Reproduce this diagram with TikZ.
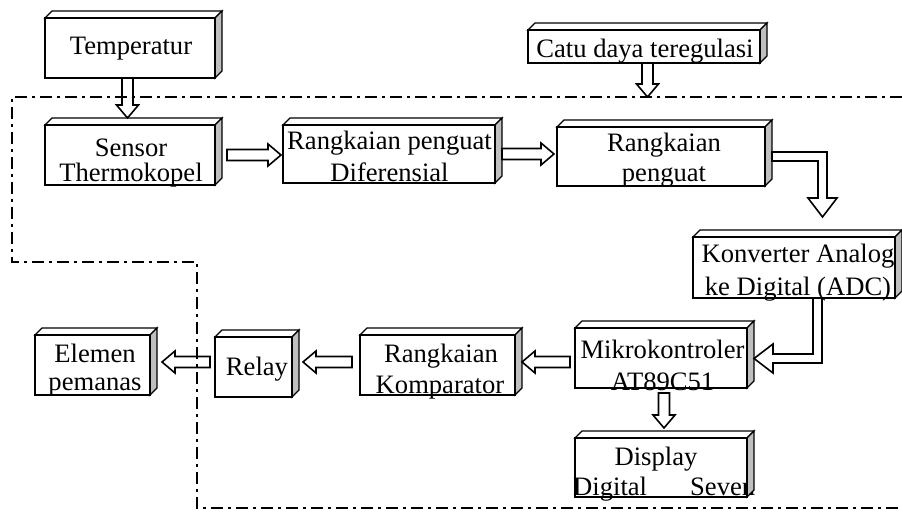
\documentclass[tikz,border=0pt]{standalone}
\usepackage{fontspec}
\setmainfont{Liberation Serif}
\usetikzlibrary{calc}
\def\arSW{5.5pt}\def\arHW{11pt}\def\arHL{13pt}
\def\elSW{4.5pt}\def\elHW{14.5pt}\def\elHL{19pt}
\tikzset{
 cubebox/.style={draw, line width=2pt, fill=white, inner sep=0pt, outer sep=0pt},
 face/.style={draw, line width=1.3pt, line join=miter, fill=white},
 sideface/.style={face, fill=black!25},
 lbl/.style={anchor=base, inner sep=0pt, font=\fontsize{26.6}{30}\selectfont},
 blk/.style={draw, line width=1.6pt, fill=white, line join=miter},
 darr/.style={blk, to path={let \p1=(\tikztostart), \p2=(\tikztotarget) in
   (\x1-\arSW,\y1) -- (\x1-\arSW,\y2+\arHL) -- (\x1-\arHW,\y2+\arHL) -- (\x1,\y2)
   -- (\x1+\arHW,\y2+\arHL) -- (\x1+\arSW,\y2+\arHL) -- (\x1+\arSW,\y1) -- cycle}},
 rarr/.style={blk, to path={let \p1=(\tikztostart), \p2=(\tikztotarget) in
   (\x1,\y1+\arSW) -- (\x2-\arHL,\y1+\arSW) -- (\x2-\arHL,\y1+\arHW) -- (\x2,\y1)
   -- (\x2-\arHL,\y1-\arHW) -- (\x2-\arHL,\y1-\arSW) -- (\x1,\y1-\arSW) -- cycle}},
 larr/.style={blk, to path={let \p1=(\tikztostart), \p2=(\tikztotarget) in
   (\x1,\y1+\arSW) -- (\x2+\arHL,\y1+\arSW) -- (\x2+\arHL,\y1+\arHW) -- (\x2,\y1)
   -- (\x2+\arHL,\y1-\arHW) -- (\x2+\arHL,\y1-\arSW) -- (\x1,\y1-\arSW) -- cycle}},
 rdarr/.style={blk, to path={let \p1=(\tikztostart), \p2=(\tikztotarget) in
   (\x1,\y1+\elSW) -- (\x2+\elSW,\y1+\elSW) -- (\x2+\elSW,\y2+\elHL) -- (\x2+\elHW,\y2+\elHL)
   -- (\x2,\y2) -- (\x2-\elHW,\y2+\elHL) -- (\x2-\elSW,\y2+\elHL) -- (\x2-\elSW,\y1-\elSW)
   -- (\x1,\y1-\elSW) -- cycle}},
 dlarr/.style={blk, to path={let \p1=(\tikztostart), \p2=(\tikztotarget) in
   (\x1-\elSW,\y1) -- (\x1-\elSW,\y2+\elSW) -- (\x2+\elHL,\y2+\elSW) -- (\x2+\elHL,\y2+\elHW)
   -- (\x2,\y2) -- (\x2+\elHL,\y2-\elHW) -- (\x2+\elHL,\y2-\elSW) -- (\x1+\elSW,\y2-\elSW)
   -- (\x1+\elSW,\y1) -- cycle}},
 frame/.style={line width=2.2pt, dash pattern=on 12pt off 5pt on 3pt off 5pt}
}
\begin{document}
\begin{tikzpicture}[x=1pt,y=1pt]
\useasboundingbox (0,0) rectangle (902,512);
% boxes (front faces)
\node[cubebox, minimum width=170pt, minimum height=60pt] (temp)    at (130,464) {};
\node[cubebox, minimum width=170pt, minimum height=60pt] (sensor)  at (130,357) {};
\node[cubebox, minimum width=232pt, minimum height=33pt] (catu)    at (644,465.5) {};
\node[cubebox, minimum width=212pt, minimum height=58pt] (diff)    at (389,358) {};
\node[cubebox, minimum width=208pt, minimum height=59pt] (penguat) at (661,355.5) {};
\node[cubebox, minimum width=202pt, minimum height=61pt] (adc)     at (794,244.5) {};
\node[cubebox, minimum width=172pt, minimum height=60pt] (mikro)   at (661,154) {};
\node[cubebox, minimum width=172pt, minimum height=59pt] (display) at (661,44.5) {};
\node[cubebox, minimum width=155pt, minimum height=60pt] (komp)    at (437.5,147) {};
\node[cubebox, minimum width=77pt,  minimum height=60pt] (relay)   at (253.5,145) {};
\node[cubebox, minimum width=115pt, minimum height=60pt] (elemen)  at (92.5,147) {};
% texts
\node[lbl] (t1)  at (131,457) {Temperatur};
\node[lbl] (t2a) at (131,355) {Sensor};
\node[lbl] (t2b) at (131,330) {Thermokopel};
\node[lbl] (t3)  at (645,454) {Catu daya teregulasi};
\node[lbl] (t4a) at (389.5,362) {Rangkaian penguat};
\node[lbl] (t4b) at (389.5,330) {Diferensial};
\node[lbl] (t5a) at (664,360.5) {Rangkaian};
\node[lbl] (t5b) at (664,330.3) {penguat};
\node[lbl] (t6a) at (798,249) {Konverter Analog};
\node[lbl] (t6b) at (798,217) {ke Digital (ADC)};
\node[lbl] (t7a) at (662.5,154) {Mikrokontroler};
\node[lbl] (t7b) at (662.5,122) {AT89C51};
\node[lbl] (t8a) at (656,47) {Display};
\node[lbl, anchor=base west] (t8b) at (573,17) {Digital};
\node[lbl, anchor=base west] (t8c) at (690,17) {Seven};
\node[lbl] (t9a) at (441,150) {Rangkaian};
\node[lbl] (t9b) at (440,119) {Komparator};
\node[lbl] (t10) at (257,137) {Relay};
\node[lbl] (t11a) at (95,150) {Elemen};
\node[lbl] (t11b) at (95,122) {pemanas};
% 3D faces
\foreach \n in {temp,sensor,catu,diff,penguat,adc,mikro,display,komp,relay,elemen}{
  \draw[face] (\n.north west) -- ++(7,7) -- ($(\n.north east)+(7,7)$) -- (\n.north east) -- cycle;
  \draw[sideface] (\n.north east) -- ++(7,7) -- ($(\n.south east)+(7,7)$) -- (\n.south east) -- cycle;
  \draw[line width=2pt] (\n.north west) rectangle (\n.south east);
}
% frame corners
\coordinate (f1) at (902,415);
\coordinate (f2) at (12,415);
\coordinate (f3) at (12,250);
\coordinate (f4) at (197,250);
\coordinate (f5) at (197,4);
\coordinate (f6) at (902,4);
% arrows
\draw[darr] ([xshift=-2.5pt]temp.south) to ([yshift=7pt]sensor.north);
\draw[darr] ([xshift=3.5pt]catu.south) to (f1);
\draw[rarr] ([xshift=12pt]sensor.east) to ([xshift=-2pt]diff.west);
\draw[rarr] ([xshift=7pt]diff.east) to ([xshift=-3pt]penguat.west);
\draw[rdarr] ([xshift=7pt]penguat.east) to ([xshift=28.5pt,yshift=20pt]adc.north);
\draw[dlarr] ([xshift=23.5pt]adc.south) to ([xshift=7pt,yshift=-0.5pt]mikro.east);
\draw[darr] ([xshift=3pt,yshift=-5pt]mikro.south) to ([yshift=10pt]display.north);
\draw[larr] ([xshift=-5pt,yshift=-4pt]mikro.west) to ([xshift=7pt]komp.east);
\draw[larr] ([xshift=-8pt,yshift=3pt]komp.west) to ([xshift=11pt]relay.east);
\draw[larr] ([xshift=-5pt,yshift=5pt]relay.west) to ([xshift=12pt]elemen.east);
% dash-dot frame
\draw[frame] (f1) -- (f2) -- (f3) -- (f4) -- (f5) -- (f6);
\end{tikzpicture}
\end{document}
